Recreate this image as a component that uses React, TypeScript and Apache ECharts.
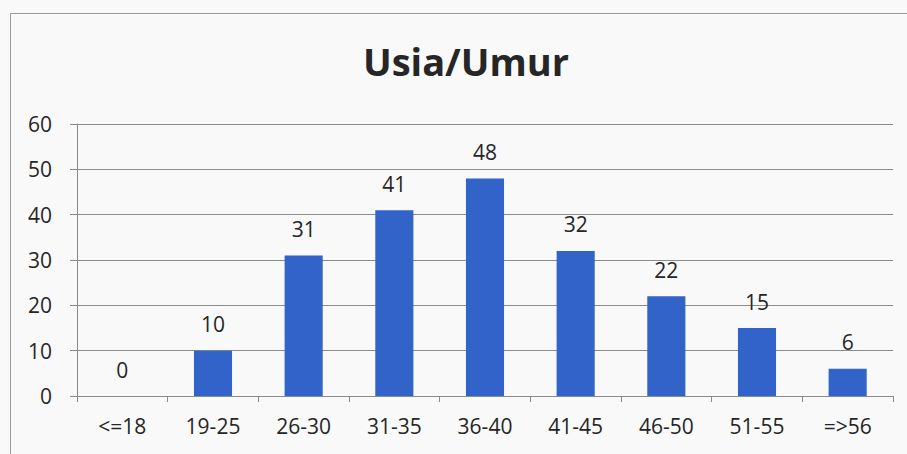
import React, { useEffect, useRef } from "react";
import * as echarts from "echarts";

const categories = ["<=18", "19-25", "26-30", "31-35", "36-40", "41-45", "46-50", "51-55", "=>56"];
const values = [0, 10, 31, 41, 48, 32, 22, 15, 6];
const title = "Usia/Umur";

export default function App() {
  const ref = useRef<HTMLDivElement>(null);
  useEffect(() => {
    if (!ref.current) return;
    const chart = echarts.init(ref.current, null, { renderer: "svg" });
    const font = "'Open Sans', 'Liberation Sans', sans-serif";
    chart.setOption({
      animation: false,
      backgroundColor: "#f9f9fa",
      title: {
        text: title,
        left: 461,
        top: 37,
        textAlign: "center",
        textStyle: { fontFamily: font, fontSize: 38, fontWeight: "bold", color: "#262626" },
      },
      graphic: [
        {
          type: "rect",
          shape: { x: 10.5, y: 13.5, width: 1000, height: 1000 },
          style: { fill: "none", stroke: "#9a9a9a", lineWidth: 1 },
          silent: true,
        },
      ],
      grid: { left: 77, right: 14, top: 124, bottom: 58, containLabel: false },
      xAxis: {
        type: "category",
        data: categories,
        axisLine: { show: true, lineStyle: { color: "#8a8a8a", width: 1 } },
        axisTick: { show: true, length: 6, lineStyle: { color: "#8a8a8a" } },
        axisLabel: { fontFamily: font, fontSize: 21, color: "#262626", margin: 19 },
      },
      yAxis: {
        type: "value",
        min: 0,
        max: 60,
        interval: 10,
        axisLine: { show: true, lineStyle: { color: "#8a8a8a", width: 1 } },
        axisTick: { show: true, length: 7, lineStyle: { color: "#8a8a8a" } },
        axisLabel: { fontFamily: font, fontSize: 21, color: "#262626", margin: 25 },
        splitLine: { show: true, lineStyle: { color: "#8a8a8a", width: 1 } },
      },
      series: [
        {
          type: "bar",
          data: values,
          barWidth: "42%",
          itemStyle: { color: "#3163c9" },
          label: {
            show: true,
            position: "top",
            distance: 16,
            fontFamily: font,
            fontSize: 21,
            color: "#262626",
          },
        },
      ],
    });
    return () => chart.dispose();
  }, []);
  return (
    <div
      ref={ref}
      style={{ position: "fixed", left: 0, top: 0, width: 907, height: 454 }}
    />
  );
}
